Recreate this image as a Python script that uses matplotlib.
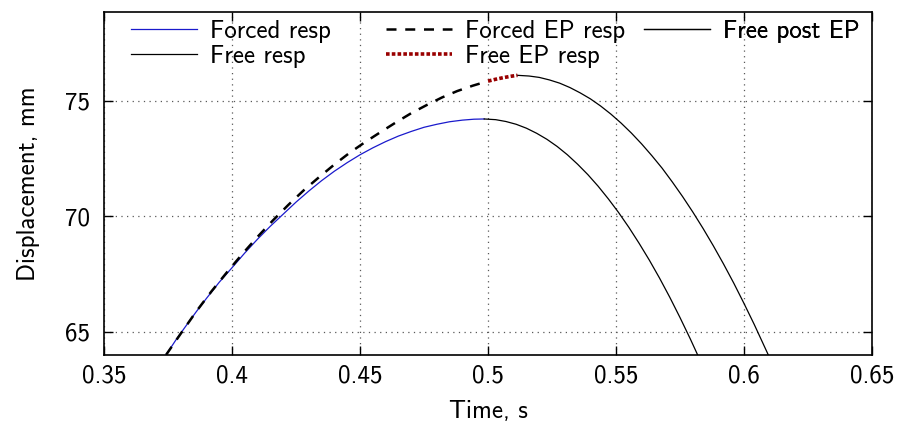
import numpy as np
import matplotlib
matplotlib.use("Agg")
import matplotlib.pyplot as plt
from matplotlib.lines import Line2D

plt.rcParams['font.family'] = ['cmss10', 'DejaVu Sans']
plt.rcParams['axes.unicode_minus'] = False

# forced response (blue)
forced_t = [0.3742, 0.378, 0.382, 0.386, 0.390, 0.395, 0.400, 0.405, 0.410, 0.415,
            0.420, 0.425, 0.430, 0.435, 0.440, 0.445, 0.450, 0.455, 0.460, 0.465,
            0.470, 0.475, 0.480, 0.485, 0.490, 0.4945, 0.4985]
forced_y = [64.0, 64.64, 65.26, 65.87, 66.45, 67.15, 67.78, 68.42, 69.02, 69.58,
            70.1, 70.62, 71.1, 71.55, 71.96, 72.33, 72.67, 72.97, 73.24, 73.48,
            73.68, 73.86, 73.99, 74.1, 74.17, 74.21, 74.22]

# forced EP response (dashed)
forced_ep_t = [0.3742, 0.380, 0.386, 0.392, 0.398, 0.404, 0.410, 0.416, 0.422, 0.428,
               0.434, 0.440, 0.446, 0.452, 0.458, 0.464, 0.470, 0.476, 0.482, 0.488,
               0.494, 0.5]
forced_ep_y = [64.0, 64.93, 65.88, 66.76, 67.58, 68.37, 69.12, 69.83, 70.5, 71.13,
               71.7, 72.25, 72.76, 73.22, 73.65, 74.07, 74.47, 74.82, 75.15, 75.43,
               75.66, 75.86]

# free EP response (red dotted)
free_ep_t = [0.5, 0.503, 0.506, 0.509, 0.5115]
free_ep_y = [75.86, 75.94, 76.01, 76.07, 76.11]

# free response after forced peak
free_t = [0.4985, 0.503, 0.507, 0.511, 0.515, 0.519, 0.523, 0.527, 0.531, 0.535,
          0.539, 0.543, 0.547, 0.551, 0.555, 0.559, 0.563, 0.567, 0.571, 0.575,
          0.579, 0.5819]
free_y = [74.22, 74.19, 74.11, 73.99, 73.82, 73.6, 73.34, 73.03, 72.67, 72.26,
          71.81, 71.31, 70.76, 70.17, 69.53, 68.84, 68.11, 67.33, 66.5, 65.62,
          64.7, 64.0]

# free response after EP
post_t = [0.5115, 0.516, 0.520, 0.524, 0.528, 0.532, 0.536, 0.540, 0.544, 0.548,
          0.552, 0.556, 0.560, 0.564, 0.568, 0.572, 0.576, 0.580, 0.584, 0.588,
          0.592, 0.596, 0.600, 0.604, 0.6095]
post_y = [76.11, 76.08, 76.02, 75.91, 75.77, 75.58, 75.35, 75.09, 74.78, 74.43,
          74.04, 73.61, 73.14, 72.63, 72.09, 71.49, 70.86, 70.19, 69.48, 68.73,
          67.94, 67.11, 66.23, 65.32, 64.0]

fig = plt.figure(figsize=(9.03, 4.30), dpi=100)
ax = fig.add_axes([0.1152, 0.1744, 0.8505, 0.7976])

ax.plot(forced_t, forced_y, color='#1a1acc', lw=0.9, zorder=3)
ax.plot(forced_ep_t, forced_ep_y, color='black', lw=1.8, dashes=(4, 3.5), zorder=4)
ax.plot(free_t, free_y, color='black', lw=0.9, zorder=3)
ax.plot(post_t, post_y, color='black', lw=0.9, zorder=3)
ax.plot(free_ep_t, free_ep_y, color='#990000', lw=2.6, dashes=(1.0, 0.6), zorder=5)

ax.set_xlim(0.35, 0.65)
ax.set_ylim(64, 78.85)
ax.set_xticks([0.35, 0.4, 0.45, 0.5, 0.55, 0.6, 0.65])
ax.set_xticklabels(['0.35', '0.4', '0.45', '0.5', '0.55', '0.6', '0.65'])
ax.set_yticks([65, 70, 75])
ax.grid(True, color='0.35', lw=0.9, linestyle=(0, (1, 3.5)))
ax.tick_params(direction='in', length=6.5, width=1, top=True, right=True,
               labelsize=18)
ax.tick_params(axis='x', pad=7)
ax.tick_params(axis='y', pad=10)
for s in ax.spines.values():
    s.set_linewidth(1.2)

ax.set_xlabel('Time, s', fontsize=18, labelpad=9)
ax.set_ylabel('Displacement, mm', fontsize=18, labelpad=18)

# legend laid out in three fixed-width columns
cols = [
    [Line2D([], [], color='#1a1acc', lw=0.9), Line2D([], [], color='black', lw=0.9)],
    [Line2D([], [], color='black', lw=1.8, dashes=(4, 3.5)),
     Line2D([], [], color='#990000', lw=2.6, dashes=(1.0, 0.6))],
    [Line2D([], [], color='black', lw=0.9)],
]
names = [['Forced resp', 'Free resp'], ['Forced EP resp', 'Free EP resp'], ['Free post EP']]
x0 = [0.0352, 0.3678, 0.7025]
for k in range(3):
    leg = ax.legend(cols[k], names[k], loc='upper left', bbox_to_anchor=(x0[k], 0.978),
                    frameon=False, fontsize=18, handlelength=2.64, handletextpad=0.52,
                    labelspacing=0.08, borderaxespad=0.0, borderpad=0.0)
    ax.add_artist(leg)

fig.savefig('out.png', dpi=100)
